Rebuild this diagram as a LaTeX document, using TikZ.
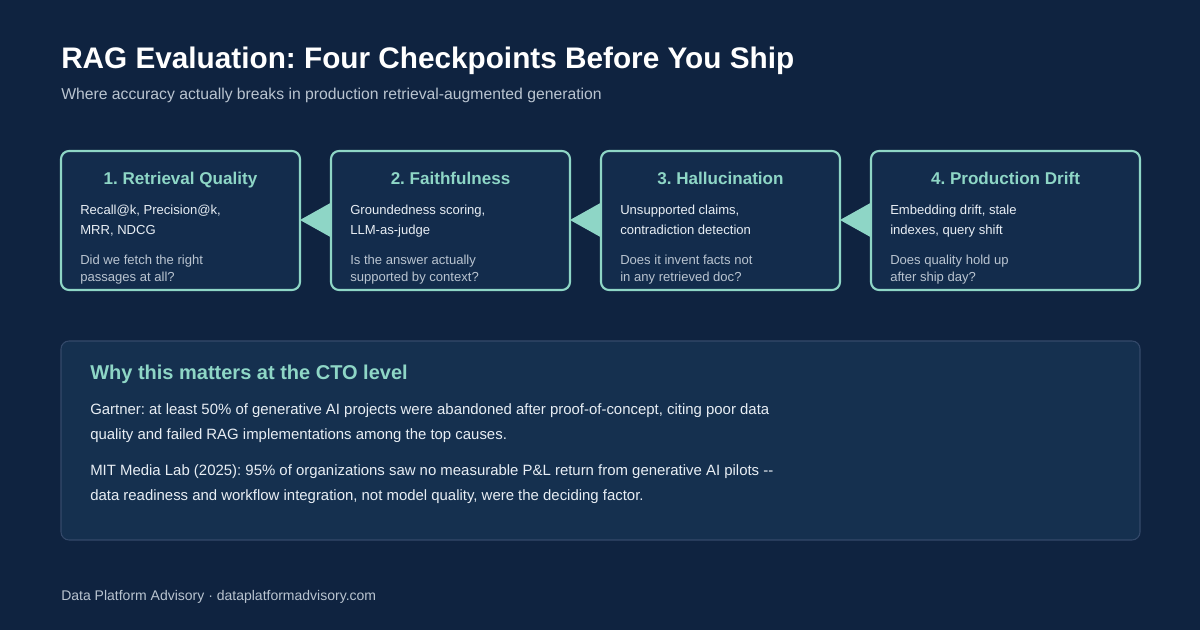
\documentclass[tikz,border=0pt]{standalone}
\usepackage{fontspec}
\setmainfont{Liberation Sans}
\frenchspacing
\definecolor{bgdark}{HTML}{0F2340}
\definecolor{boxfill}{HTML}{132C4C}
\definecolor{panelfill}{HTML}{15304F}
\definecolor{teal}{HTML}{8ED6C6}
\definecolor{bodytext}{HTML}{E8EEF4}
\definecolor{softtext}{HTML}{B9C4D0}
\definecolor{edgegray}{HTML}{34496A}
\tikzset{
  stage/.style={draw=teal, line width=1.6pt, fill=boxfill, rounded corners=6pt},
  stagetitle/.style={anchor=base, text=teal, font=\bfseries\fontsize{12.8}{14}\selectfont},
  line/.style={anchor=base west, text=bodytext, font=\fontsize{9.8}{11}\selectfont, inner sep=0pt},
  ask/.style={line, text=softtext},
  para/.style={anchor=base west, text=bodytext, font=\fontsize{11.2}{12}\selectfont, inner sep=0pt},
}
\begin{document}
\begin{tikzpicture}[x=0.75pt, y=-0.75pt]
		\fill[bgdark] (0,0) rectangle (1200,630);
		\useasboundingbox (0,0) rectangle (1200,630);
		
		\node[anchor=base west, inner sep=0pt, text=white, font=\bfseries\fontsize{22.3}{25}\selectfont] (title) at (61,69) {RAG Evaluation: Four Checkpoints Before You Ship};
		\node[anchor=base west, inner sep=0pt, text=softtext, font=\fontsize{11.8}{13}\selectfont] (subtitle) at (61,100) {Where accuracy actually breaks in production retrieval-augmented generation};
		
		% the four checkpoints
		\foreach \i/\x/\w/\head/\la/\lb/\qa/\qb in {
			1/61/239/1. Retrieval Quality/{Recall@k, Precision@k,}/{MRR, NDCG}/Did we fetch the right/passages at all?,
			2/331/239/2. Faithfulness/{Groundedness scoring,}/LLM-as-judge/Is the answer actually/supported by context?,
			3/601/239/3. Hallucination/{Unsupported claims,}/contradiction detection/Does it invent facts not/in any retrieved doc?,
			4/871/269/4. Production Drift/{Embedding drift, stale}/{indexes, query shift}/Does quality hold up/after ship day?}
		{
			\draw[stage] (\x,151) rectangle +(\w,139);
			\coordinate (box\i west) at (\x,220);
			\coordinate (box\i east) at (\x+\w,220);
			\node[stagetitle] (head\i) at (\x+\w/2,185) {\head};
			\node[line] (la\i) at (\x+19,215) {\la};
			\node[line] (lb\i) at (\x+19,235) {\lb};
			\node[ask] (qa\i) at (\x+19,265) {\qa};
			\node[ask] (qb\i) at (\x+19,282) {\qb};
		}
		\foreach \a/\b in {1/2, 2/3, 3/4}
			\fill[teal] (box\a east) -- ([yshift=-13]box\b west) -- ([yshift=13]box\b west) -- cycle;
		
		% why it matters
		\draw[fill=panelfill, draw=edgegray, line width=0.8pt, rounded corners=6pt] (61,341) rectangle (1140,540);
		\node[anchor=base west, inner sep=0pt, text=teal, font=\bfseries\fontsize{15}{18}\selectfont] (why) at (90,380) {Why this matters at the CTO level};
		\node[para] (p1) at (90,415) {Gartner: at least 50\% of generative AI projects were abandoned after proof-of-concept, citing poor data};
		\node[para] (p2) at (90,440) {quality and failed RAG implementations among the top causes.};
		\node[para] (p3) at (90,476) {MIT Media Lab (2025): 95\% of organizations saw no measurable P\&L return from generative AI pilots -{}-};
		\node[para] (p4) at (90,501) {data readiness and workflow integration, not model quality, were the deciding factor.};
		
		\node[anchor=base west, inner sep=0pt, text=softtext, font=\fontsize{10.5}{12}\selectfont] (footer) at (61,600) {Data Platform Advisory · dataplatformadvisory.com};
\end{tikzpicture}
\end{document}
